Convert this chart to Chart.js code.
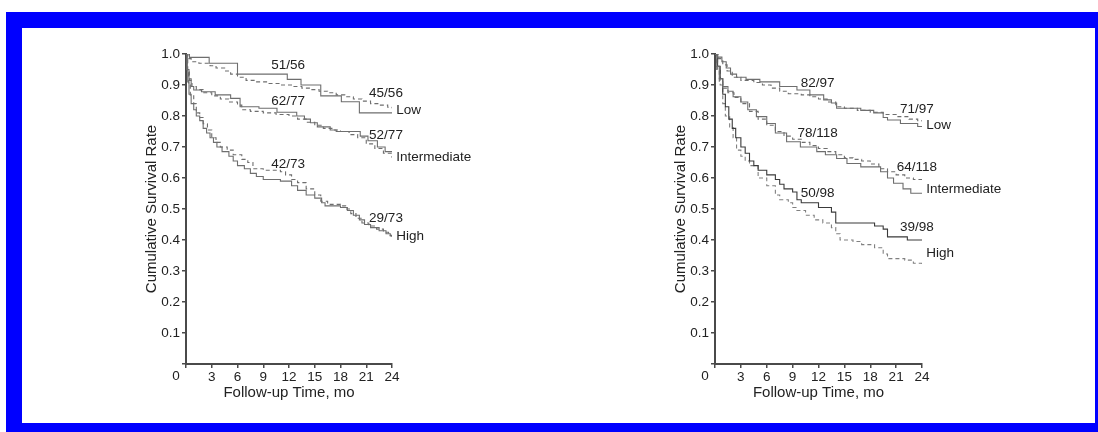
<!DOCTYPE html>
<html>
<head>
<meta charset="utf-8">
<script src="https://cdn.jsdelivr.net/npm/chart.js@4.4.1/dist/chart.umd.min.js"></script>
<style>
  html, body { margin: 0; padding: 0; background: #fff; }
  body { width: 1098px; height: 432px; position: relative; overflow: hidden; font-family: "Liberation Sans", Arial, sans-serif; }
  #frame { position: absolute; left: 6px; top: 12px; width: 1092px; height: 420px; background: #0000ff; }
  #inner { position: absolute; left: 22px; top: 28px; width: 1073px; height: 395px; background: #fff; }
  .panel { position: absolute; top: 0; width: 549px; height: 432px; }
</style>
</head>
<body>
<div id="frame"></div>
<div id="inner"></div>
<div class="panel" style="left:0"><canvas id="leftChart"></canvas></div>
<div class="panel" style="left:549px"><canvas id="rightChart"></canvas></div>
<script>
// x ticks (months) and y ticks (survival)
const monthTicks = [0, 3, 6, 9, 12, 15, 18, 21, 24];
const rateTicks = [0.1, 0.2, 0.3, 0.4, 0.5, 0.6, 0.7, 0.8, 0.9, 1.0];

// left panel: [month, survival] at each step
const leftLowSolid = [[0,1],[0.4,0.989],[2.7,0.97],[6.0,0.935],[11.8,0.918],[13.4,0.9],[15.7,0.865],[18.1,0.846],[20.2,0.81],[24,0.81]];
const leftLowDashed = [[0,1],[0.2,0.985],[0.6,0.975],[1.5,0.97],[2.8,0.962],[3.5,0.955],[4.5,0.945],[5.2,0.935],[6.0,0.925],[7.0,0.915],[8.0,0.91],[9.5,0.905],[11.0,0.9],[12.5,0.895],[13.5,0.89],[14.5,0.885],[15.5,0.88],[16.5,0.875],[17.5,0.868],[18.5,0.862],[19.5,0.855],[20.5,0.848],[21.5,0.84],[22.5,0.835],[23.5,0.828],[24,0.825]];
const leftMidSolid = [[0,1],[0.15,0.95],[0.35,0.92],[0.6,0.895],[0.9,0.884],[1.8,0.878],[3.4,0.868],[5.2,0.857],[6.3,0.83],[8.5,0.825],[10.6,0.812],[12.9,0.8],[13.8,0.79],[14.5,0.778],[15.3,0.765],[16.8,0.755],[17.5,0.75],[20.3,0.735],[21.2,0.72],[22.3,0.7],[23.2,0.685],[24,0.685]];
const leftMidDashed = [[0,1],[0.2,0.95],[0.4,0.915],[0.7,0.895],[1.2,0.885],[2.0,0.875],[3.0,0.865],[4.0,0.855],[5.0,0.845],[6.0,0.835],[6.5,0.82],[7.5,0.815],[9.0,0.81],[10.5,0.805],[12.0,0.8],[13.0,0.79],[14.0,0.78],[15.0,0.77],[16.0,0.76],[17.0,0.755],[18.0,0.75],[19.0,0.74],[20.0,0.73],[21.0,0.71],[22.0,0.695],[23.0,0.68],[24,0.665]];
const leftHighSolid = [[0,1],[0.1,0.95],[0.2,0.91],[0.35,0.87],[0.6,0.84],[0.9,0.82],[1.2,0.8],[1.6,0.785],[2.0,0.76],[2.4,0.745],[2.8,0.73],[3.2,0.715],[3.6,0.7],[4.2,0.685],[5.0,0.67],[5.5,0.655],[6.0,0.64],[6.8,0.63],[7.5,0.615],[8.2,0.605],[9.0,0.595],[11.0,0.59],[12.3,0.575],[13.0,0.56],[14.0,0.545],[15.0,0.535],[15.8,0.52],[16.2,0.51],[18.0,0.505],[18.8,0.495],[19.5,0.48],[20.2,0.465],[20.8,0.45],[21.5,0.44],[22.5,0.43],[23.3,0.42],[23.8,0.413],[24,0.413]];
const leftHighDashed = [[0,1],[0.15,0.94],[0.3,0.9],[0.5,0.865],[0.9,0.84],[1.2,0.81],[1.6,0.795],[2.0,0.775],[2.5,0.755],[3.0,0.73],[3.5,0.715],[4.0,0.7],[4.8,0.69],[5.5,0.675],[6.5,0.66],[7.2,0.65],[7.8,0.63],[9.0,0.625],[11.0,0.62],[11.6,0.61],[12.3,0.595],[13.0,0.585],[14.0,0.565],[15.0,0.545],[15.7,0.525],[16.5,0.515],[18.0,0.51],[18.6,0.5],[19.2,0.485],[19.8,0.47],[20.5,0.455],[21.3,0.445],[22.2,0.435],[23.0,0.425],[23.6,0.415],[24,0.41]];

// right panel
const rightLowSolid = [[0,1],[0.3,0.99],[0.8,0.975],[1.3,0.955],[1.8,0.935],[2.5,0.925],[3.6,0.918],[5.2,0.91],[7.5,0.895],[9.5,0.884],[11.0,0.868],[12.6,0.852],[13.5,0.842],[14.1,0.825],[16.9,0.818],[18.4,0.81],[19.5,0.795],[20.0,0.787],[21.5,0.776],[23.5,0.766],[24,0.766]];
const rightLowDashed = [[0,1],[0.4,0.985],[0.9,0.965],[1.4,0.945],[2.0,0.925],[3.0,0.915],[4.5,0.908],[5.5,0.9],[6.5,0.89],[7.5,0.88],[8.5,0.872],[10.0,0.868],[11.0,0.862],[12.0,0.855],[13.0,0.845],[14.0,0.83],[15.0,0.825],[16.5,0.818],[18.0,0.812],[19.5,0.805],[21.0,0.798],[22.5,0.79],[23.5,0.785],[24,0.782]];
const rightMidSolid = [[0,1],[0.2,0.96],[0.5,0.92],[0.9,0.895],[1.5,0.88],[2.1,0.862],[3.0,0.845],[3.8,0.82],[4.8,0.798],[6.0,0.776],[7.0,0.745],[8.3,0.717],[9.9,0.7],[11.8,0.685],[12.8,0.675],[14.1,0.663],[15.3,0.647],[16.9,0.636],[19.2,0.62],[20.0,0.6],[20.7,0.583],[21.8,0.565],[22.7,0.551],[24,0.551]];
const rightMidDashed = [[0,1],[0.2,0.95],[0.5,0.91],[0.9,0.89],[1.5,0.875],[2.2,0.86],[3.0,0.84],[4.0,0.815],[5.0,0.79],[6.0,0.77],[7.0,0.75],[8.0,0.735],[9.0,0.725],[10.0,0.715],[11.0,0.705],[12.0,0.695],[13.0,0.685],[14.0,0.675],[15.0,0.665],[16.0,0.66],[17.0,0.655],[18.0,0.645],[19.0,0.63],[20.0,0.62],[21.0,0.61],[22.0,0.6],[23.0,0.595],[24,0.588]];
const rightHighSolid = [[0,1],[0.3,0.96],[0.6,0.92],[0.9,0.87],[1.2,0.83],[1.6,0.79],[2.0,0.76],[2.4,0.73],[3.0,0.7],[3.5,0.68],[4.0,0.655],[4.5,0.64],[5.0,0.625],[6.0,0.61],[7.0,0.595],[7.5,0.58],[8.0,0.565],[9.0,0.555],[9.5,0.53],[10.0,0.52],[12.0,0.505],[13.5,0.49],[14.0,0.455],[18.5,0.445],[19.5,0.435],[20.0,0.41],[22.3,0.4],[24,0.4]];
const rightHighDashed = [[0,1],[0.3,0.95],[0.6,0.9],[0.9,0.84],[1.2,0.8],[1.7,0.765],[2.1,0.73],[2.5,0.69],[3.0,0.67],[3.5,0.655],[4.0,0.64],[5.0,0.6],[6.0,0.575],[7.0,0.545],[7.5,0.53],[8.5,0.52],[9.0,0.505],[9.5,0.495],[10.5,0.48],[11.5,0.465],[12.5,0.455],[13.5,0.44],[14.0,0.42],[14.5,0.4],[16.0,0.395],[17.0,0.385],[18.5,0.375],[19.5,0.355],[20.0,0.34],[22.0,0.335],[23.0,0.325],[24,0.315]];

// annotations: text, month, survival
const leftNotes = [
  ['51/56', 11.9, 0.965, 'center'], ['45/56', 23.3, 0.874, 'center'], ['Low', 24.5, 0.819, 'left'],
  ['62/77', 11.9, 0.848, 'center'], ['52/77', 23.3, 0.739, 'center'], ['Intermediate', 24.5, 0.668, 'left'],
  ['42/73', 11.9, 0.645, 'center'], ['29/73', 23.3, 0.471, 'center'], ['High', 24.5, 0.413, 'left']
];
const rightNotes = [
  ['82/97', 11.9, 0.906, 'center'], ['71/97', 23.4, 0.823, 'center'], ['Low', 24.5, 0.771, 'left'],
  ['78/118', 11.9, 0.745, 'center'], ['64/118', 23.4, 0.635, 'center'], ['Intermediate', 24.5, 0.565, 'left'],
  ['50/98', 11.9, 0.552, 'center'], ['39/98', 23.4, 0.442, 'center'], ['High', 24.5, 0.358, 'left']
];

const FONT = '"Liberation Sans", Arial, sans-serif';
const TEXT = '#222222';
const AXIS = '#4a4a4a';

function curve(points, dashed, color) {
  return {
    data: points.map(p => ({x: p[0], y: p[1]})),
    stepped: true,
    borderColor: color || '#6e6e6e',
    borderWidth: 1.1,
    borderDash: dashed ? [4, 3] : [],
    pointRadius: 0,
    fill: false
  };
}

const notesPlugin = {
  id: 'notes',
  afterDatasetsDraw(chart, args, opts) {
    const ctx = chart.ctx;
    const xs = chart.scales.x, ys = chart.scales.y;
    ctx.save();
    ctx.font = '13.5px ' + FONT;
    ctx.fillStyle = TEXT;
    ctx.textBaseline = 'middle';
    opts.items.forEach(n => {
      ctx.textAlign = n[3];
      ctx.fillText(n[0], xs.getPixelForValue(n[1]), ys.getPixelForValue(n[2]));
    });
    // origin label, set left of the axis corner
    ctx.textAlign = 'center';
    ctx.textBaseline = 'top';
    ctx.fillText('0', xs.getPixelForValue(0) - 10, chart.chartArea.bottom + 6);
    ctx.restore();
  }
};

function makeChart(id, sets, notes, padLeft, padRight) {
  return new Chart(document.getElementById(id), {
    type: 'line',
    data: {datasets: sets},
    plugins: [notesPlugin],
    options: {
      responsive: false,
      animation: false,
      devicePixelRatio: 1,
      layout: {padding: {left: padLeft, right: padRight, top: 54, bottom: 28}},
      plugins: {legend: {display: false}, tooltip: {enabled: false}, notes: {items: notes}},
      scales: {
        x: {
          type: 'linear', min: 0, max: 24,
          afterFit: s => { s.height = 40; },
          afterBuildTicks: s => { s.ticks = monthTicks.map(v => ({value: v})); },
          ticks: {color: TEXT, font: {family: FONT, size: 13.5}, padding: 1, maxRotation: 0,
                  callback: v => v === 0 ? '' : v},
          grid: {drawOnChartArea: false, color: AXIS, tickLength: 4, lineWidth: 1.5},
          border: {color: AXIS, width: 2},
          title: {display: true, text: 'Follow-up Time, mo', color: TEXT,
                  font: {family: FONT, size: 15}, padding: {top: 0, bottom: 2}}
        },
        y: {
          type: 'linear', min: 0, max: 1,
          afterFit: s => { s.width = 46; },
          afterBuildTicks: s => { s.ticks = [{value: 0}].concat(rateTicks.map(v => ({value: v}))); },
          ticks: {color: TEXT, font: {family: FONT, size: 13.5}, padding: 2,
                  callback: v => v === 0 ? '' : v.toFixed(1)},
          grid: {drawOnChartArea: false, color: AXIS, tickLength: 4, lineWidth: 1.5},
          border: {color: AXIS, width: 2},
          title: {display: true, text: 'Cumulative Survival Rate', color: TEXT,
                  font: {family: FONT, size: 15}, padding: {top: 3, bottom: 0}}
        }
      }
    }
  });
}

['leftChart', 'rightChart'].forEach(id => {
  const c = document.getElementById(id);
  c.width = 549; c.height = 432;
  c.style.width = '549px'; c.style.height = '432px';
});

makeChart('leftChart', [
  curve(leftLowSolid, false), curve(leftLowDashed, true),
  curve(leftMidSolid, false), curve(leftMidDashed, true),
  curve(leftHighSolid, false), curve(leftHighDashed, true)
], leftNotes, 140, 157);

makeChart('rightChart', [
  curve(rightLowSolid, false), curve(rightLowDashed, true),
  curve(rightMidSolid, false), curve(rightMidDashed, true),
  curve(rightHighSolid, false, '#3a3a3a'), curve(rightHighDashed, true, '#808080')
], rightNotes, 120, 176);
</script>
</body>
</html>
